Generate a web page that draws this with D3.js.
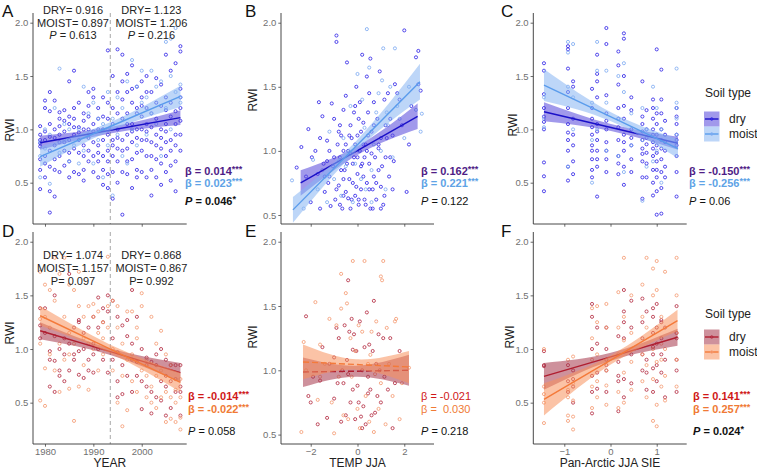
<!DOCTYPE html>
<html><head><meta charset="utf-8">
<script src="https://cdn.jsdelivr.net/npm/d3@7"></script>
<style>
body{margin:0;background:#fff}
svg{display:block}
text{font-family:"Liberation Sans",Arial,sans-serif}
</style>
</head><body>
<svg id="chart" width="757" height="469"></svg>
<script>
// ---------------- DATA ----------------
const yearTicks = [1980, 1990, 2000];
const tempTicks = [-2, 0, 2];
const sieTicks = [-1, 0, 1];
const rwiTicks = [0.5, 1.0, 1.5, 2.0];
const splitYear = 1993.5;
const periodCenters = [1985.8, 2002.0];

// Panel A (YEAR vs RWI, blue) : [year, [RWI values]]
const aDry = [
 [1979,[0.44,0.62,0.72,0.84,0.87,0.9,0.95,1.03]],[1980,[0.55,0.68,0.75,0.9,0.98,1.2,1.27]],
 [1981,[0.22,0.42,0.65,0.8,0.93,1.05,1.17,1.35]],[1982,[0.37,0.62,0.72,0.85,0.92,1.0,1.27]],
 [1983,[0.6,0.75,0.88,0.95,1.03,1.1,1.16]],[1984,[0.66,0.8,0.88,0.98,1.08,1.18]],
 [1985,[0.55,0.7,0.78,0.9,1.05,1.12,1.45]],[1986,[0.6,0.82,0.95,1.02,1.1,1.2,1.55]],
 [1987,[0.58,0.78,0.9,0.97,1.02,1.25]],[1988,[0.52,0.62,0.75,0.85,1.0,1.08,1.15]],
 [1989,[0.7,0.8,0.92,1.0,1.12,1.22,1.35]],[1990,[0.6,0.75,0.88,0.98,1.05,1.3,1.38]],
 [1991,[0.55,0.7,0.78,0.85,1.0,1.1,1.2]],[1992,[0.48,0.62,0.75,0.9,1.0,1.12,1.3]],
 [1993,[0.45,0.58,0.7,0.8,0.95,1.1,1.25,1.74]],[1994,[0.35,0.6,0.75,0.85,0.9,1.05,1.2,1.5]],
 [1995,[0.5,0.7,0.82,0.92,1.0,1.15,1.35,1.75]],[1996,[0.2,0.6,0.8,0.9,1.1,1.28,1.45,1.7]],
 [1997,[0.58,0.7,0.82,0.95,1.05,1.15,1.35,1.52]],[1998,[0.45,0.72,0.88,0.98,1.05,1.25,1.38,1.6]],
 [1999,[0.55,0.62,0.78,0.92,1.0,1.15,1.2,1.4]],[2000,[0.6,0.8,0.9,1.0,1.12,1.22,1.3,1.45]],
 [2001,[0.55,0.75,0.9,0.98,1.05,1.2,1.35,1.5]],[2002,[0.38,0.62,0.75,0.88,1.02,1.15,1.35]],
 [2003,[0.55,0.72,0.85,0.95,1.1,1.25,1.48]],[2004,[0.48,0.68,0.82,0.92,1.0,1.22,1.42]],
 [2005,[0.6,0.75,0.88,0.98,1.05,1.18,1.3,1.7]],[2006,[0.52,0.66,0.8,0.9,1.12,1.25,1.55]],
 [2007,[0.42,0.7,0.85,0.95,1.05,1.17,1.62]],[2008,[0.8,0.95,1.08,1.2,1.3,1.38,1.73,1.78]]
];
const aMoist = [
 [1979,[0.55,0.75,0.88]],[1980,[0.82,1.0]],[1981,[0.49,0.95]],[1982,[1.2]],[1983,[0.78,1.57]],[1984,[0.9,1.05]],
 [1985,[0.7,1.0]],[1986,[0.85]],[1987,[0.68,1.0]],[1988,[0.8,1.4]],[1989,[0.95,1.15]],[1990,[0.68,1.25]],
 [1991,[0.9,1.1]],[1992,[0.55,1.05]],[1993,[0.85,1.0,1.35]],[1994,[0.38,1.1]],[1995,[0.95,1.3]],[1996,[0.75,1.2]],
 [1997,[0.68,1.45]],[1998,[1.0,1.65]],[1999,[0.85,1.4]],[2000,[1.25,1.55]],[2001,[0.95,1.3]],[2002,[1.15,1.55]],
 [2003,[1.05,1.4]],[2004,[0.75,1.45]],[2005,[1.2,1.82]],[2006,[1.0,1.5,1.85]],[2007,[1.35,1.95]],[2008,[1.25,1.3,1.42]]
];
// fitted lines with confidence band: [x, lower, fit, upper]
const aFitDry = [[1979,0.81,0.874,0.94],[1993.5,0.962,0.992,1.022],[2008,1.04,1.11,1.18]];
const aFitMoist = [[1979,0.65,0.744,0.84],[1993.5,0.987,1.027,1.067],[2008,1.21,1.31,1.41]];

// Panel B (TEMP JJA vs RWI, blue) : [temp, RWI]
const bDry = [
 [-2.6,0.87],[-2.4,1.03],[-2.2,0.8],[-2.1,1.17],[-2.0,0.6],[-1.95,0.95],[-1.8,1.0],[-1.7,0.82],[-1.65,1.38],[-1.6,0.55],
 [-1.5,1.27],[-1.45,0.9],[-1.4,0.68],[-1.3,1.08],[-1.25,0.75],[-1.2,1.0],[-1.15,0.57],[-1.1,1.37],[-1.05,0.88],[-1.0,1.25],
 [-0.95,0.62],[-0.9,1.9],[-0.9,1.85],[-0.85,1.05],[-0.8,0.73],[-0.75,0.95],[-0.7,1.12],[-0.65,0.55],[-0.6,1.32],[-0.55,0.85],
 [-0.5,1.43],[-0.5,0.68],[-0.45,1.69],[-0.4,1.0],[-0.35,0.78],[-0.3,1.2],[-0.3,0.55],[-0.25,1.1],[-0.2,0.9],[-0.15,1.3],
 [-0.1,0.65],[-0.1,1.05],[-0.05,1.5],[0.0,0.82],[0.0,1.12],[0.05,0.58],[0.1,1.0],[0.1,1.38],[0.15,0.7],[0.2,1.75],
 [0.2,0.9],[0.25,1.22],[0.3,0.62],[0.35,1.05],[0.4,1.58],[0.4,0.75],[0.45,1.3],[0.5,0.9],[0.55,1.72],[0.55,0.55],
 [0.6,1.15],[0.65,0.7],[0.7,1.38],[0.75,0.95],[0.8,0.62],[0.85,1.25],[0.9,0.85],[0.95,1.62],[1.0,0.72],[1.0,1.1],
 [1.1,0.58],[1.15,1.4],[1.2,0.95],[1.3,1.45],[1.35,0.8],[1.4,1.25],[1.5,1.12],[1.55,0.92],[1.6,1.52],[1.7,1.45],
 [1.8,1.4],[1.9,1.2],[2.0,1.94],[2.1,0.68],[2.2,1.05],[2.3,1.35],[2.5,1.73],[2.6,1.78],[2.6,1.52],[2.7,1.47],
 [1.0,0.55],[0.3,0.95],[-0.2,0.75],[-0.6,1.0],[0.7,0.8],[-1.3,0.92],[0.15,1.15],[-0.4,0.63],[0.9,1.02],[-0.75,1.2],
 [-1.2,0.8],[-1.0,0.95],[-0.9,0.7],[-0.8,1.15],[-0.7,0.85],[-0.6,0.65],[-0.5,1.05],[-0.45,0.9],[-0.35,1.12],[-0.25,0.62],
 [-0.15,0.95],[-0.05,0.72],[0.05,1.25],[0.15,0.88],[0.25,1.05],[0.35,0.58],[0.45,1.12],[0.5,0.7],[0.6,0.98],[0.7,1.2],
 [0.8,0.75],[0.9,1.05],[1.05,0.88],[1.15,0.65],[1.25,1.1],[1.4,0.95],[-1.6,1.1],[-1.4,0.8],[0.0,0.95],[0.25,0.8],
 [-0.3,0.98],[0.4,1.0],[-0.6,0.78],[0.65,0.55],[1.5,0.7],[-0.1,1.35],[0.5,1.45],[0.05,0.62],[-0.75,0.58],[1.2,1.2]
];
const bMoist = [
 [-2.8,0.77],[-2.3,0.55],[-1.9,0.93],[-1.7,0.7],[-1.5,0.85],[-1.3,0.6],[-1.2,1.15],[-1.0,0.78],[-0.8,0.92],[-0.7,0.65],
 [-0.6,1.1],[-0.5,0.88],[-0.3,1.35],[-0.2,0.6],[0.0,1.6],[0.05,1.0],[0.15,0.78],[0.2,1.4],[0.3,1.18],[0.4,1.95],
 [0.5,1.65],[0.6,0.85],[0.7,1.05],[0.8,1.3],[0.9,1.45],[1.0,1.0],[1.1,1.8],[1.2,0.7],[1.3,1.2],[1.4,1.5],
 [1.5,0.95],[1.6,1.8],[1.7,1.35],[1.8,1.25],[2.0,1.1],[2.2,1.5],[2.5,1.32],[2.7,1.15],[2.75,1.29],[0.6,0.6],
 [-0.1,0.9],[0.35,0.7],[1.05,1.55],[1.25,1.3]
];
const bFitDry = [[-2.43,0.65,0.75,0.85],[0.07,0.975,1.01,1.045],[2.57,1.17,1.27,1.37]];
const bFitMoist = [[-2.76,0.44,0.54,0.64],[-0.045,1.0,1.04,1.08],[2.67,1.40,1.54,1.68]];

// Panel C (Pan-Arctic JJA SIE vs RWI, blue) : [SIE, [RWI values]]
const cDry = [
 [-1.44,[0.42,0.56,0.69,1.0,1.07,1.12,1.2,1.33,1.55,1.62]],[-0.92,[0.52,0.65,0.8,0.9,0.97,1.05,1.2,1.35,1.57,1.75,1.78]],
 [-0.81,[0.58,0.7,0.85,0.95,1.1,1.4,1.45]],[-0.4,[0.55,0.62,0.72,0.8,0.85,0.95,1.02,1.1,1.2,1.38]],
 [-0.29,[0.37,0.65,0.72,0.8,0.9,0.98,1.05,1.3,1.45,1.52,1.7]],[-0.09,[0.6,0.72,0.8,0.88,1.0,1.08,1.15,1.32,1.8,1.95]],
 [0.17,[0.58,0.68,0.75,0.9,1.02,1.1,1.2,1.42,1.6,1.73]],[0.29,[0.48,0.65,0.8,0.88,0.95,1.1,1.22,1.5,1.85,1.9]],
 [0.45,[0.6,0.72,0.85,0.92,1.0,1.18,1.3]],[0.69,[0.35,0.55,0.7,0.77,0.82,0.9,0.98,1.05,1.12,1.45]],
 [0.78,[0.55,0.68,0.78,0.86,0.92,1.0,1.18]],[0.92,[0.38,0.5,0.62,0.75,0.82,0.88,0.95,1.0,1.1,1.2,1.28]],
 [1.0,[0.2,0.42,0.55,0.62,0.7,0.78,0.85,0.95,1.05,1.15,1.75]],[1.1,[0.21,0.45,0.6,0.72,0.82,0.9,1.0,1.15,1.28,1.56]],
 [1.18,[0.55,0.65,0.8,0.88,0.95,1.08]],[1.43,[0.37,0.6,0.75,0.85,0.9,0.95,1.05,1.12,1.2]]
];
const cMoist = [
 [-1.44,[1.02,1.1,1.3]],[-0.92,[0.65,1.4,1.72,1.82]],[-0.81,[1.0,1.3,1.8]],[-0.4,[0.5,0.9,1.25]],
 [-0.29,[1.0,1.55,1.82]],[-0.09,[0.8,1.25,1.55]],[0.17,[0.75,1.1,1.5]],[0.29,[0.6,1.35,1.62]],
 [0.45,[0.85,1.15]],[0.69,[0.33,0.9,1.2]],[0.78,[0.65,1.0]],[0.92,[0.7,1.4]],[1.0,[0.8,1.2]],
 [1.1,[0.5,1.0]],[1.43,[0.95,1.1,1.2,1.25,1.57]]
];
const cFitDry = [[-1.44,1.075,1.165,1.255],[0.01,0.985,1.018,1.05],[1.46,0.81,0.87,0.93]];
const cFitMoist = [[-1.44,1.265,1.415,1.565],[0.01,1.075,1.118,1.16],[1.46,0.73,0.82,0.91]];

// Panel D (YEAR vs RWI, red)
const dDry = [
 [1979,[1.1,1.22,1.38]],[1980,[1.15,1.38]],[1981,[0.65,0.9,0.98]],[1982,[0.6,0.89,1.12,1.5]],[1983,[0.75,0.8,1.0]],
 [1984,[0.7,0.95,1.1]],[1985,[0.8,1.05,1.7]],[1986,[0.9,0.95,1.2]],[1987,[0.76,0.98,1.25,1.27]],[1988,[0.73,1.0,1.15]],
 [1989,[0.8,0.9,1.2]],[1990,[0.78,0.95,1.05,1.3]],[1991,[1.0,1.2,1.48]],[1992,[0.9,1.25,1.38]],[1993,[0.78,1.35,1.5]],
 [1994,[0.9,1.1,1.45]],[1995,[0.55,0.7,0.97,1.3]],[1996,[0.58,0.85,1.22]],[1997,[0.75,1.12,1.27]],[1998,[0.6,0.9,1.05,1.55]],
 [1999,[0.75,0.88,1.3]],[2000,[0.44,0.7,1.0]],[2001,[0.65,0.85,0.92]],[2002,[0.4,0.6,0.88]],[2003,[0.55,0.85,0.95]],
 [2004,[0.52,0.7,1.0]],[2005,[0.38,0.65,0.75,0.9]],[2006,[0.45,0.7,0.85]],[2007,[0.6,0.72,0.85]],[2008,[0.38,0.6,0.65,0.85]]
];
const dMoist = [
 [1979,[0.52,1.05,1.28,1.72]],[1980,[0.47,0.82,1.3,1.6]],[1981,[0.95,1.2,1.55]],[1982,[0.8,1.45,1.85]],[1983,[0.6,1.05,1.7]],
 [1984,[0.9,1.3,1.85]],[1985,[0.63,0.95,1.15,1.6]],[1986,[0.33,1.05,1.55]],[1987,[0.65,1.4,1.72]],[1988,[0.85,1.1,1.3]],
 [1989,[0.62,1.05,1.4]],[1990,[1.0,1.3,1.42]],[1991,[0.8,1.15,1.35]],[1992,[0.95,1.1,1.25]],[1993,[1.2,1.4,1.86]],
 [1994,[0.8,1.0,1.45]],[1995,[0.5,1.2,1.4]],[1996,[0.28,0.75,1.05]],[1997,[0.43,0.9,1.35]],[1998,[0.7,0.95,1.35]],
 [1999,[0.6,1.1,1.2]],[2000,[0.8,1.4,1.52]],[2001,[0.55,0.75,0.9]],[2002,[0.5,0.65,1.3]],[2003,[0.45,0.75,1.05]],
 [2004,[0.55,0.8,1.17]],[2005,[0.32,0.6,0.95]],[2006,[0.35,0.55,0.85]],[2007,[0.32,0.5,0.62]],[2008,[0.25,0.36,0.55,0.72]]
];
const dFitDry = [[1979,1.09,1.17,1.25],[1993.5,0.945,0.975,1.005],[2008,0.69,0.78,0.87]];
const dFitMoist = [[1979,1.22,1.31,1.40],[1993.5,0.96,1.0,1.04],[2008,0.6,0.69,0.78]];

// Panel E (TEMP JJA vs RWI, red)
const eDry = [
 [-2.2,1.42],[-2.1,0.8],[-2.0,0.75],[-1.9,0.95],[-1.7,0.58],[-1.6,0.92],[-1.5,1.18],[-1.3,0.63],[-1.2,1.05],[-1.0,0.78],
 [-0.9,1.33],[-0.85,0.9],[-0.8,1.25],[-0.7,0.6],[-0.65,1.0],[-0.6,0.9],[-0.55,1.35],[-0.5,0.65],[-0.45,1.08],[-0.4,0.97],
 [-0.35,1.3],[-0.3,0.75],[-0.25,1.4],[-0.2,0.85],[-0.15,1.28],[-0.1,0.62],[-0.05,1.15],[0.0,0.88],[0.05,0.75],[0.1,1.38],
 [0.15,0.64],[0.2,1.0],[0.25,0.72],[0.3,1.18],[0.35,0.58],[0.4,1.45],[0.45,0.95],[0.5,1.2],[0.55,0.85],[0.6,0.65],
 [0.65,1.15],[0.7,1.54],[0.75,0.67],[0.8,1.05],[0.85,0.8],[0.9,1.28],[1.0,0.75],[1.1,1.25],[1.15,0.95],[1.3,0.85],
 [1.4,1.25],[1.5,0.55],[1.6,0.9],[1.8,1.15],[-0.4,1.7],[0.2,0.55],[-1.0,1.1],[0.45,0.82],[-0.2,1.16],[0.95,1.0]
];
const eMoist = [
 [-2.4,0.52],[-2.3,1.22],[-2.2,1.0],[-1.8,1.53],[-1.7,0.77],[-1.6,1.2],[-1.4,1.05],[-1.2,1.4],[-1.1,0.75],[-1.0,0.51],
 [-0.9,1.35],[-0.8,0.95],[-0.7,1.48],[-0.7,1.75],[-0.6,0.65],[-0.5,1.6],[-0.45,1.52],[-0.4,0.62],[-0.3,1.25],[-0.2,1.85],
 [-0.1,1.15],[0.0,0.7],[0.05,1.35],[0.1,0.55],[0.2,1.3],[0.3,1.85],[0.35,0.8],[0.45,1.05],[0.5,0.6],[0.6,1.3],
 [0.7,0.52],[0.75,0.97],[0.8,1.38],[0.9,0.7],[1.0,1.73],[1.05,1.7],[1.1,1.85],[1.2,0.58],[1.25,1.33],[1.35,1.05],
 [1.5,0.8],[1.6,1.38],[1.65,1.4],[1.8,0.62],[1.9,0.9],[2.2,1.02],[-1.6,0.95],[0.55,1.12],[-0.25,0.95],[1.0,0.9]
];
const eFitDry = [[-2.33,0.87,0.987,1.10],[-0.065,0.95,0.993,1.036],[2.2,0.88,1.0,1.12]];
const eFitMoist = [[-2.33,0.93,1.065,1.20],[-0.065,1.005,1.045,1.085],[2.2,0.9,1.026,1.15]];

// Panel F (Pan-Arctic JJA SIE vs RWI, red)
const fDry = [
 [-1.44,[0.84,0.85,0.98]],[-0.92,[0.6,0.7,0.85]],[-0.81,[0.5,0.65,0.72,0.8]],[-0.4,[0.4,0.6,0.75,1.0,1.3,1.42]],
 [-0.29,[0.63,0.78,1.05,1.2]],[-0.09,[0.6,0.8,0.85,0.9,1.0,1.2]],[0.17,[0.42,0.7,0.75,0.88,1.12]],
 [0.29,[0.55,0.72,1.1,1.25,1.35,1.55]],[0.45,[0.68,0.95,1.2,1.45]],[0.69,[0.8,0.95,1.1,1.25,1.47]],
 [0.78,[0.62,0.78,0.9,1.35]],[0.92,[0.6,0.82,0.95,1.02,1.15,1.3,1.38]],[1.0,[0.7,0.85,1.05,1.2,1.42]],
 [1.1,[0.78,0.95,1.1,1.25,1.27]],[1.18,[0.55,0.9,1.2]],[1.43,[0.6,0.8,0.9,1.1,1.15,1.4]]
];
const fMoist = [
 [-1.44,[0.31,0.5,0.58,0.65,1.0]],[-0.92,[0.33,0.38,0.55,0.62,0.9]],[-0.81,[0.25,0.37,0.52,0.68,0.93]],
 [-0.4,[0.45,0.65,0.9,1.1,1.38]],[-0.29,[0.55,0.7,0.95,1.25,1.4]],[-0.09,[0.48,0.66,0.8,1.2,1.42]],
 [0.17,[0.45,0.6,0.95,1.2,1.53]],[0.29,[0.5,0.78,1.08,1.3,1.85]],[0.45,[0.62,0.88,1.15,1.5]],
 [0.69,[0.7,0.95,1.3,1.6]],[0.78,[0.55,0.85,1.2,1.85]],[0.92,[0.33,0.72,1.0,1.5,1.75]],
 [1.0,[0.28,0.48,0.88,1.55,1.82]],[1.1,[0.65,0.9,1.05,1.3]],[1.18,[0.52,0.75,1.0,1.72]],[1.43,[0.65,0.9,1.15,1.5,1.85]]
];
const fFitDry = [[-1.44,0.62,0.745,0.87],[0.005,0.89,0.927,0.965],[1.45,1.03,1.11,1.19]];
const fFitMoist = [[-1.44,0.38,0.53,0.68],[0.005,0.855,0.897,0.94],[1.45,1.165,1.265,1.365]];

// text annotations
const soilTypes = ["dry", "moist"];
const statsA = [["β = 0.014","***",true],["β = 0.023","***",true],["0.046","*",true]];
const statsB = [["β = 0.162","***",true],["β = 0.221","***",true],["0.122","",false]];
const statsC = [["β = -0.150","***",true],["β = -0.256","***",true],["0.06","",false]];
const statsD = [["β = -0.014","***",true],["β = -0.022","***",true],["0.058","",false]];
const statsE = [["β = -0.021","",false],["β =\u00A0 0.030","",false],["0.218","",false]];
const statsF = [["β = 0.141","***",true],["β = 0.257","***",true],["0.024","*",true]];
const periodsA = [["DRY= 0.916","MOIST= 0.897","0.613"],["DRY= 1.123","MOIST= 1.206","0.216"]];
const periodsD = [["DRY= 1.074","MOIST= 1.157","0.097"],["DRY= 0.868","MOIST= 0.867","0.992"]];

// ---------------- DRAWING ----------------
const flatCols = arr => arr.flatMap(([x, ys]) => ys.map(y => [x, y]));

const TOP = {dryPt:"#2a1ee6", moistPt:"#7aa8f2", dryLine:"#1a10c8", moistLine:"#5a9cec",
             dryRib:"#5446da", moistRib:"#86b5f2", dryTxt:"#4f1d86", moistTxt:"#5ea3e6"};
const BOT = {dryPt:"#b2283e", moistPt:"#f49870", dryLine:"#b01e30", moistLine:"#f47a3a",
             dryRib:"#a6364a", moistRib:"#f7915c", dryTxt:"#d01818", moistTxt:"#f07a35"};

const svg = d3.select("#chart");
svg.append("rect").attr("width",757).attr("height",469).attr("fill","#fff");

const panels = [
 {letter:"A", lx:2, ly:17, l:33, r:186.7, t:13, b:224, xd:[1977.52,2009.3], yd:[0.1128,2.0909], xt:yearTicks, xlab:false,
  dry:flatCols(aDry), moist:flatCols(aMoist), fd:aFitDry, fm:aFitMoist, pal:TOP, yTitle:[10,130],
  stats:statsA, sx:185, sy:[171,183,201], periods:periodsA, py:[10,23,35], pItalic:true},
 {letter:"B", lx:245, ly:17, l:281, r:434, t:13, b:224, xd:[-3.27,3.27], yd:[0.4298,2.0757], xt:tempTicks, xlab:false,
  dry:bDry, moist:bMoist, fd:bFitDry, fm:bFitMoist, pal:TOP, yTitle:[253,100],
  stats:statsB, sx:421, sy:[171,183,201]},
 {letter:"C", lx:501, ly:17, l:533.3, r:686.7, t:13, b:224, xd:[-1.671,1.649], yd:[0.1128,2.0909], xt:sieTicks, xlab:false,
  dry:flatCols(cDry), moist:flatCols(cMoist), fd:cFitDry, fm:cFitMoist, pal:TOP, yTitle:[513,125],
  stats:statsC, sx:689, sy:[171,183,201], legend:[93,119,134]},
 {letter:"D", lx:2, ly:237, l:33, r:186.7, t:232, b:444, xd:[1977.52,2009.3], yd:[0.1148,2.0906], xt:yearTicks, xlab:true,
  dry:flatCols(dDry), moist:flatCols(dMoist), fd:dFitDry, fm:dFitMoist, pal:BOT, yTitle:[10,333], xTitle:"YEAR",
  stats:statsD, sx:188, sy:[396,409,431], periods:periodsD, py:[255,268,281], pItalic:false},
 {letter:"E", lx:245, ly:237, l:281, r:434, t:232, b:444, xd:[-3.27,3.27], yd:[0.4268,2.0755], xt:tempTicks, xlab:true,
  dry:eDry, moist:eMoist, fd:eFitDry, fm:eFitMoist, pal:BOT, yTitle:[253,337], xTitle:"TEMP JJA", dashed:true,
  stats:statsE, sx:421, sy:[396,409,431]},
 {letter:"F", lx:501, ly:237, l:533.3, r:686.7, t:232, b:444, xd:[-1.671,1.649], yd:[0.1148,2.0906], xt:sieTicks, xlab:true,
  dry:flatCols(fDry), moist:flatCols(fMoist), fd:fFitDry, fm:fFitMoist, pal:BOT, yTitle:[510,337], xTitle:"Pan-Arctic JJA SIE",
  stats:statsF, sx:693, sy:[396,409,431], legend:[314,337,352]}
];

panels.forEach(p => {
  const g = svg.append("g");
  const x = d3.scaleLinear().domain(p.xd).range([p.l, p.r]);
  const y = d3.scaleLinear().domain(p.yd).range([p.b, p.t]);

  // split line (panels A, D)
  if (p.periods) {
    g.append("line").attr("x1", x(splitYear)).attr("x2", x(splitYear)).attr("y1", p.t).attr("y2", p.b)
      .attr("stroke", "#a8a8a8").attr("stroke-width", 1).attr("stroke-dasharray", "4,3");
  }

  // points
  const drawPts = (data, col) => g.append("g").selectAll("circle").data(data).join("circle")
      .attr("cx", d => x(d[0])).attr("cy", d => y(d[1])).attr("r", 1.55)
      .attr("fill", "none").attr("stroke", col).attr("stroke-width", 0.9).attr("opacity", 0.9);
  drawPts(p.dry, p.pal.dryPt);
  drawPts(p.moist, p.pal.moistPt);

  // smooths
  const area = d3.area().x(d => x(d[0])).y0(d => y(d[1])).y1(d => y(d[3])).curve(d3.curveNatural);
  const line = d3.line().x(d => x(d[0])).y(d => y(d[2]));
  [[p.fd, p.pal.dryRib, p.pal.dryLine], [p.fm, p.pal.moistRib, p.pal.moistLine]].forEach(([fit, rib, ln]) => {
    g.append("path").attr("d", area(fit)).attr("fill", rib).attr("opacity", 0.55);
    g.append("path").attr("d", line(fit)).attr("fill", "none").attr("stroke", ln).attr("stroke-width", 1.4)
      .attr("stroke-dasharray", p.dashed ? "6,3" : null);
  });

  // axes
  const yAxis = g.append("g").attr("transform", `translate(${p.l},0)`)
    .call(d3.axisLeft(y).tickValues(rwiTicks).tickFormat(d3.format(".1f")).tickSize(2.7).tickPadding(2));
  const xAxis = g.append("g").attr("transform", `translate(0,${p.b})`)
    .call(d3.axisBottom(x).tickValues(p.xt).tickFormat(p.xlab ? d3.format("d") : "").tickSize(2.7).tickPadding(2));
  [yAxis, xAxis].forEach(a => {
    a.select(".domain").attr("stroke", "#333").attr("stroke-width", 0.9);
    a.selectAll(".tick line").attr("stroke", "#444").attr("stroke-width", 0.8);
    a.selectAll(".tick text").attr("fill", "#707070").attr("font-size", "9.5px")
      .attr("font-family", '"Liberation Sans",Arial,sans-serif');
  });
  yAxis.select(".domain").attr("d", `M0,${p.b}V${p.t}`);
  xAxis.select(".domain").attr("d", `M${p.l},0H${p.r}`);

  // titles
  g.append("text").attr("transform", `translate(${p.yTitle[0]},${p.yTitle[1]}) rotate(-90)`)
    .attr("text-anchor", "middle").attr("dy", "0.35em").attr("font-size", "12px").attr("fill", "#222").text("RWI");
  if (p.xTitle) g.append("text").attr("x", (p.l + p.r) / 2).attr("y", 467)
    .attr("text-anchor", "middle").attr("font-size", "12px").attr("fill", "#222").text(p.xTitle);
  g.append("text").attr("x", p.lx).attr("y", p.ly).attr("font-size", "17px").attr("fill", "#111").text(p.letter);

  // stats labels
  p.stats.forEach((s, i) => {
    const t = g.append("text").attr("x", p.sx).attr("y", p.sy[i]).attr("dy", "0.35em").attr("font-size", "11px")
      .attr("font-weight", s[2] ? "bold" : "normal")
      .attr("fill", i === 0 ? p.pal.dryTxt : i === 1 ? p.pal.moistTxt : "#111");
    if (i < 2) {
      t.append("tspan").text(s[0]);
    } else {
      t.append("tspan").attr("font-style", "italic").text("P");
      t.append("tspan").text(" = " + s[0]);
    }
    if (s[1]) t.append("tspan").attr("font-size", "9px").attr("dy", "-2.5").text(s[1]);
  });

  // period annotations
  if (p.periods) {
    p.periods.forEach((per, k) => {
      per.forEach((txt, i) => {
        const t = g.append("text").attr("x", x(periodCenters[k])).attr("y", p.py[i]).attr("dy", "0.35em")
          .attr("text-anchor", "middle").attr("font-size", "11px").attr("fill", "#222");
        if (i < 2) t.text(txt);
        else {
          t.append("tspan").attr("font-style", p.pItalic ? "italic" : "normal").text("P");
          t.append("tspan").text((p.pItalic ? " = " : "= ") + txt);
        }
      });
    });
  }

  // legend
  if (p.legend) {
    const lg = svg.append("g");
    lg.append("text").attr("x", 705).attr("y", p.legend[0]).attr("dy", "0.35em").attr("font-size", "12px")
      .attr("fill", "#222").text("Soil type");
    soilTypes.forEach((s, i) => {
      const cy = p.legend[1 + i];
      const rib = i === 0 ? p.pal.dryRib : p.pal.moistRib;
      const ln = i === 0 ? p.pal.dryLine : p.pal.moistLine;
      lg.append("rect").attr("x", 704).attr("y", cy - 7.5).attr("width", 15.5).attr("height", 15)
        .attr("fill", rib).attr("opacity", 0.55);
      lg.append("line").attr("x1", 705).attr("x2", 718.5).attr("y1", cy).attr("y2", cy)
        .attr("stroke", ln).attr("stroke-width", 1.4);
      lg.append("circle").attr("cx", 711.7).attr("cy", cy).attr("r", 1.3).attr("fill", "none")
        .attr("stroke", i === 0 ? p.pal.dryPt : p.pal.moistPt).attr("stroke-width", 0.9);
      lg.append("text").attr("x", 729).attr("y", cy).attr("dy", "0.35em").attr("font-size", "12px")
        .attr("fill", "#222").text(s);
    });
  }
});
</script>
</body></html>
